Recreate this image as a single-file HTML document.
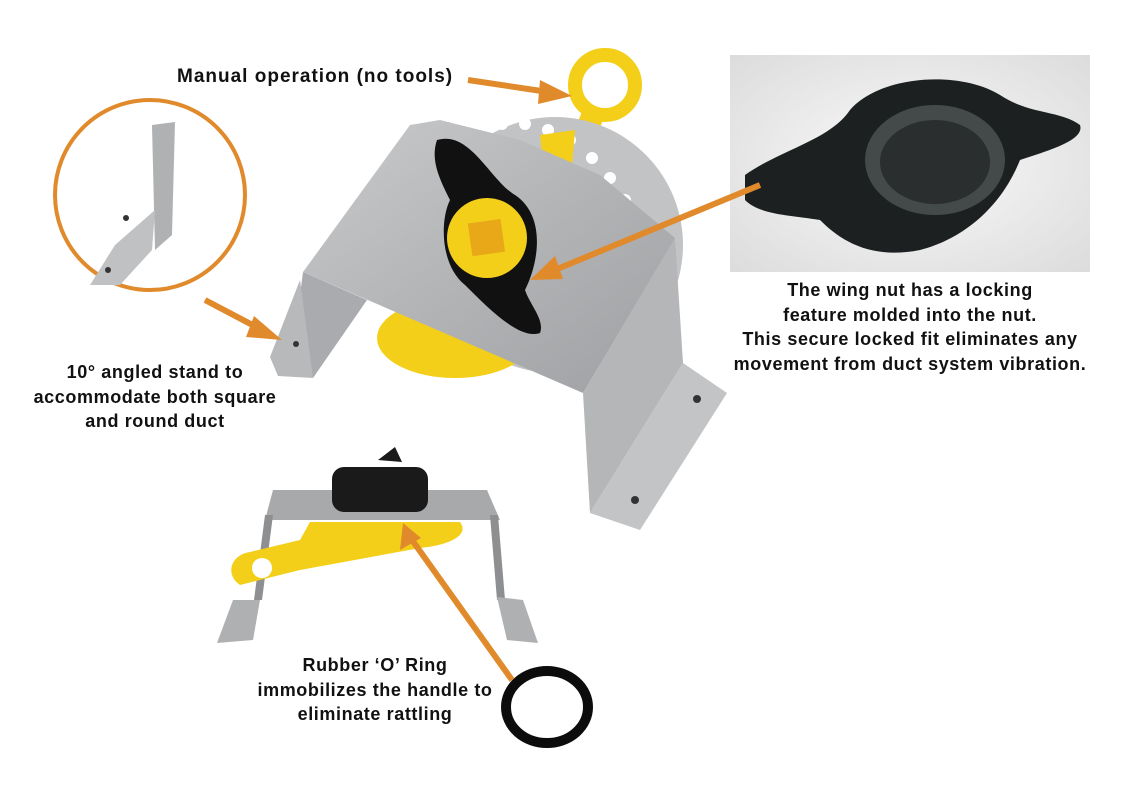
<!DOCTYPE html>
<html><head><meta charset="utf-8"><style>
body{margin:0;background:#fff;width:1129px;height:785px;overflow:hidden;position:relative;font-family:"Liberation Sans",sans-serif;font-weight:bold;color:#111}
.t{position:absolute;font-size:18px;letter-spacing:0.6px;line-height:24.5px;text-align:center;white-space:nowrap}
</style></head><body>
<svg width="1129" height="785" style="position:absolute;left:0;top:0">
<defs>
<linearGradient id="m" x1="0" y1="0" x2="1" y2="1"><stop offset="0" stop-color="#c9cacb"/><stop offset="0.5" stop-color="#b3b4b6"/><stop offset="1" stop-color="#9ea0a3"/></linearGradient>
<radialGradient id="bg" cx="0.5" cy="0.5" r="0.7"><stop offset="0" stop-color="#fafafa"/><stop offset="1" stop-color="#dcdcdc"/></radialGradient>
</defs>
<circle cx="605" cy="85" r="30" fill="none" stroke="#f3cf1a" stroke-width="14"/>
<path d="M585 105 L605 112 L585 180 L555 175 Z" fill="#f3cf1a"/>
<circle cx="555" cy="245" r="128" fill="#c2c3c5"/>
<g fill="#fff">
<circle cx="460" cy="135" r="6"/><circle cx="480" cy="128" r="6"/><circle cx="502" cy="124" r="6"/><circle cx="525" cy="124" r="6"/><circle cx="548" cy="130" r="6"/><circle cx="570" cy="140" r="6"/><circle cx="592" cy="158" r="6"/><circle cx="610" cy="178" r="6"/><circle cx="625" cy="200" r="6"/><circle cx="634" cy="222" r="6"/>
</g>
<path d="M540 135 L575 130 L570 190 L545 185Z" fill="#f3cf1a"/>
<ellipse cx="455" cy="338" rx="78" ry="40" fill="#f3cf1a"/>
<polygon points="303,272 367,300 313,378 290,372" fill="#a9abae"/>
<polygon points="270,357 300,280 313,378 278,376" fill="#b8b9bb"/>
<circle cx="296" cy="344" r="3" fill="#333"/>
<path d="M410 125 L440 120 L520 140 L600 175 L675 238 L583 393 L303 272 Z" fill="url(#m)"/>
<polygon points="583,393 675,238 683,363 590,513" fill="#b5b6b8"/>
<polygon points="683,363 727,393 640,530 590,513" fill="#c3c4c6"/>
<circle cx="697" cy="399" r="4" fill="#333"/><circle cx="635" cy="500" r="4" fill="#333"/>
<path d="M437 140 C470 130 490 180 515 195 C545 215 540 260 525 290 C530 305 545 320 540 333 C520 340 490 310 465 285 C440 265 440 220 450 200 C440 180 430 160 437 140Z" fill="#111"/>
<circle cx="487" cy="238" r="40" fill="#f3cf1a"/>
<rect x="470" y="221" width="33" height="33" fill="#e8a818" transform="rotate(-8 487 238)"/>
<circle cx="150" cy="195" r="95" fill="#fff" stroke="#e08a2c" stroke-width="4"/>
<polygon points="152,125 175,122 172,235 155,250" fill="#b0b1b3"/>
<polygon points="155,210 152,250 120,285 90,285 115,245" fill="#c0c1c3"/>
<circle cx="126" cy="218" r="3" fill="#333"/><circle cx="108" cy="270" r="3" fill="#333"/>
<rect x="730" y="55" width="360" height="217" fill="url(#bg)"/>
<path d="M745 175 C780 150 830 140 850 110 C880 75 960 70 1000 95 C1030 115 1060 110 1080 125 C1085 140 1050 150 1020 160 C1000 210 960 240 920 250 C870 260 840 240 820 220 C790 215 760 215 745 200Z" fill="#1c2020"/>
<ellipse cx="935" cy="160" rx="70" ry="55" fill="#444a4a"/>
<ellipse cx="935" cy="162" rx="55" ry="42" fill="#2a2e2e"/>
<polygon points="273,490 487,490 500,520 265,520" fill="#a7a9ab"/>
<polygon points="265,515 273,515 262,600 254,600" fill="#8d8f91"/>
<polygon points="490,515 498,515 505,600 497,600" fill="#8d8f91"/>
<polygon points="217,643 233,600 260,600 253,640" fill="#aeb0b2"/>
<polygon points="497,597 523,600 538,643 507,640" fill="#aeb0b2"/>
<path d="M310 522 L460 522 C470 535 450 545 420 548 L300 570 L240 585 C225 575 230 555 250 552 L300 540Z" fill="#f3cf1a"/>
<circle cx="262" cy="568" r="10" fill="#fff"/>
<rect x="332" y="467" width="96" height="45" rx="12" fill="#1a1a1a"/>
<polygon points="378,460 395,447 402,462" fill="#1a1a1a"/>
<ellipse cx="547" cy="707" rx="41" ry="36" fill="none" stroke="#0c0c0c" stroke-width="10"/>
<g fill="#e08a2c" stroke="#e08a2c">
<line x1="468" y1="80" x2="548" y2="92" stroke-width="6"/><polygon points="572,96 540,80 538,104" stroke="none"/>
<line x1="205" y1="300" x2="262" y2="330" stroke-width="6"/><polygon points="282,340 254,316 246,337" stroke="none"/>
<line x1="760" y1="185" x2="550" y2="272" stroke-width="6"/><polygon points="530,280 555,256 563,279" stroke="none"/>
<line x1="512" y1="680" x2="412" y2="540" stroke-width="6"/><polygon points="403,523 400,550 421,538" stroke="none"/>
</g>
</svg>
<div class="t" style="left:177px;top:65px;font-size:19px;letter-spacing:1px">Manual operation (no tools)</div>
<div class="t" style="left:30px;top:360px;width:250px">10° angled stand to<br>accommodate both square<br>and round duct</div>
<div class="t" style="left:730px;top:278px;width:360px">The wing nut has a locking<br>feature molded into the nut.<br>This secure locked fit eliminates any<br>movement from duct system vibration.</div>
<div class="t" style="left:250px;top:653px;width:250px">Rubber ‘O’ Ring<br>immobilizes the handle to<br>eliminate rattling</div>
</body></html>
